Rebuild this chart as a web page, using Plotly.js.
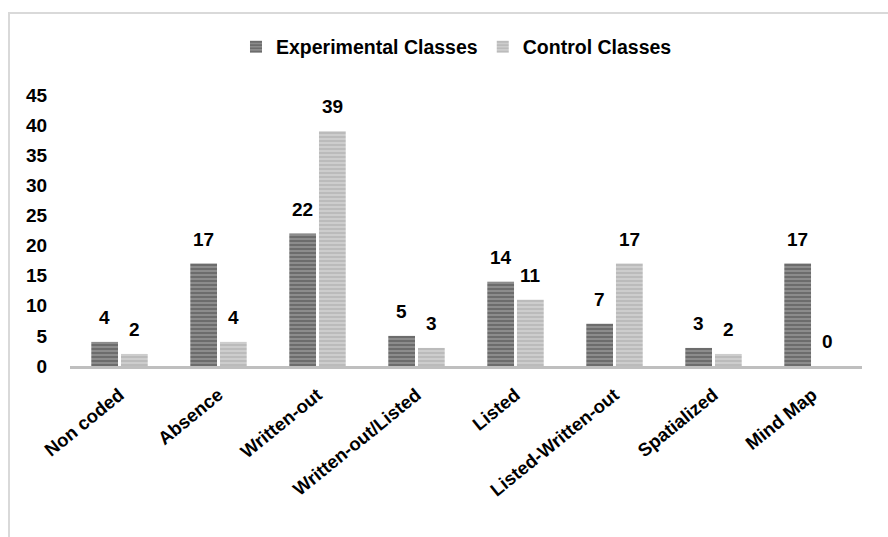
<!DOCTYPE html>
<html>
<head>
<meta charset="utf-8">
<script src="https://cdn.plot.ly/plotly-3.0.1.min.js"></script>
<style>
  html, body { margin: 0; padding: 0; background: #fff; }
  #wrap { position: relative; width: 888px; height: 537px; overflow: hidden; }
  #chart { width: 888px; height: 537px; }
  #frame { position: absolute; left: 8px; top: 12px; width: 1000px; height: 1000px;
           border-top: 2px solid #d9d9d9; border-left: 2px solid #d9d9d9; pointer-events: none; }
</style>
</head>
<body>
<div id="wrap">
  <div id="chart"></div>
  <div id="frame"></div>
</div>
<script>
const categories = ["Non coded", "Absence", "Written-out", "Written-out/Listed", "Listed", "Listed-Written-out", "Spatialized", "Mind Map"];
const experimental = [4, 17, 22, 5, 14, 7, 3, 17];
const control = [2, 4, 39, 3, 11, 17, 2, 0];
const yTicks = [0, 5, 10, 15, 20, 25, 30, 35, 40, 45];

const FAM = "Liberation Sans, Arial, sans-serif";
const W = 888, H = 537;
const M = { l: 70, r: 26, t: 95, b: 171 };
const BARGAP = 0.4;

const traces = [
  {
    type: "bar", name: "Experimental Classes", x: categories, y: experimental,
    marker: { color: "#7c7c7c", line: { width: 0 },
      pattern: { shape: "-", bgcolor: "#8c8c8c", fgcolor: "#5e5e5e", size: 4, solidity: 0.35 } }
  },
  {
    type: "bar", name: "Control Classes", x: categories, y: control,
    marker: { color: "#c6c6c6", line: { width: 0 },
      pattern: { shape: "-", bgcolor: "#cdcdcd", fgcolor: "#b3b3b3", size: 4, solidity: 0.35 } }
  }
];

// value labels placed above each bar (offset to the bar's slot within its group)
const catW = (W - M.l - M.r) / categories.length;
const slotOffset = catW * (1 - BARGAP) / 4;
const annotations = [];
[[experimental, -1], [control, 1]].forEach(([vals, side]) => {
  vals.forEach((v, i) => {
    annotations.push({
      x: categories[i], y: v, xref: "x", yref: "y",
      text: String(v), showarrow: false,
      xanchor: "center", yanchor: "bottom",
      xshift: side * slotOffset, yshift: 12,
      font: { family: FAM, size: 19, color: "#000", weight: "bold" }
    });
  });
});

const layout = {
  width: W, height: H, margin: M,
  paper_bgcolor: "#fff", plot_bgcolor: "#fff",
  barmode: "group", bargap: BARGAP, bargroupgap: 0.1,
  font: { family: FAM, size: 18, color: "#000", weight: "bold" },
  showlegend: true,
  legend: { orientation: "h", x: 0.488, xanchor: "center", y: 1.177, yanchor: "middle",
    font: { family: FAM, size: 19.5, color: "#000", weight: "bold" },
    itemwidth: 30, traceorder: "normal" },
  annotations: annotations,
  xaxis: {
    type: "category", tickangle: -39, showgrid: false, zeroline: false,
    showline: true, linecolor: "#bfbfbf", linewidth: 3,
    ticks: "outside", ticklen: 8, tickcolor: "rgba(0,0,0,0)",
    tickfont: { family: FAM, size: 18.5, color: "#000", weight: "bold" }
  },
  yaxis: {
    range: [0, 45], tickvals: yTicks, ticktext: yTicks.map(String),
    showgrid: false, zeroline: false, showline: false,
    ticks: "outside", ticklen: 18, tickcolor: "rgba(0,0,0,0)",
    tickfont: { family: FAM, size: 19, color: "#000", weight: "bold" }
  }
};

Plotly.newPlot("chart", traces, layout, { displayModeBar: false, staticPlot: true });
</script>
</body>
</html>
